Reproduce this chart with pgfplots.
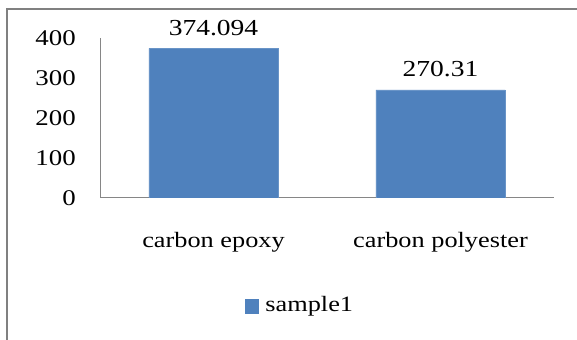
\documentclass[border=0pt]{standalone}
\usepackage{fontspec}
\setmainfont{Liberation Serif}[FakeStretch=1.2]
\usepackage{pgfplots}
\pgfplotsset{compat=1.18}
\definecolor{barblue}{HTML}{4F81BD}
\definecolor{axisgray}{HTML}{868686}
\definecolor{framegray}{HTML}{808080}
\begin{document}
\begin{tikzpicture}
\useasboundingbox (0,0) rectangle (577bp,340bp);
\draw[framegray, line width=2bp] (7bp,0) -- (7bp,330.5bp) -- (577bp,330.5bp);
\begin{axis}[
  at={(100bp,142bp)}, anchor=south west,
  scale only axis, width=454bp, height=160bp,
  xmin=-0.5, xmax=1.5, ymin=0, ymax=400,
  axis x line=bottom, axis y line=left,
  axis line style={-, draw=axisgray, line width=1bp},
  ytick={0,100,200,300,400},
  xtick={0,1},
  xticklabels={carbon epoxy, carbon polyester},
  major tick length=0pt,
  tick style={draw=none},
  /pgf/number format/assume math mode=true,
  yticklabel style={anchor=east, inner sep=0pt, xshift=-24bp, font=\fontsize{22.5}{25}\selectfont},
  xticklabel style={anchor=base, inner sep=0pt, yshift=-49bp, font=\fontsize{22}{25}\selectfont},
  ybar, bar width=0.57,
  nodes near coords={\pgfplotspointmeta},
  point meta=explicit symbolic,
  nodes near coords style={anchor=base, yshift=13bp, inner sep=0pt, font=\fontsize{23}{26}\selectfont},
  legend style={at={(0.319,-0.669)}, anchor=west, draw=none, fill=none,
    font=\fontsize{22}{25}\selectfont, inner sep=0pt},
]
\addplot[fill=barblue, draw=barblue!85!white,
  legend image code/.code={\fill[barblue] (0bp,-8bp) rectangle (13bp,6bp); \path (18bp,0bp);}]
  table[meta=label] {
x y label
0 374.094 374.094
1 270.31 270.31
};
\legend{sample1}
\end{axis}
\end{tikzpicture}
\end{document}
